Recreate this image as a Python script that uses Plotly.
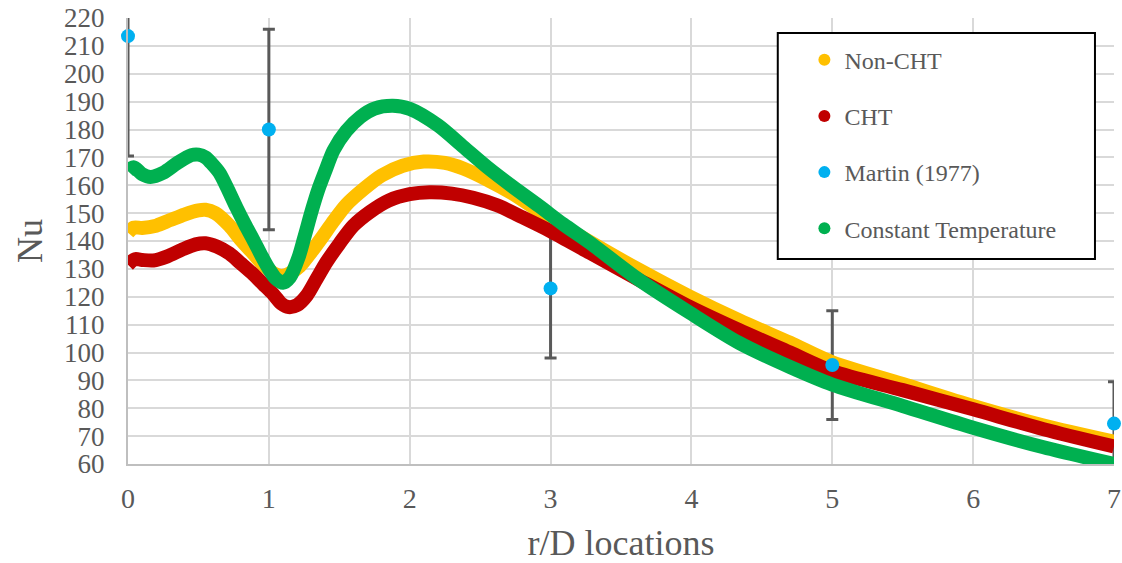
import plotly.graph_objects as go

# Nusselt number along r/D for the three simulations
r_noncht = [0, 0.04, 0.1, 0.2, 0.3, 0.4, 0.5, 0.55, 0.62, 0.72, 0.8, 0.89, 0.97, 1.05, 1.1,
            1.15, 1.22, 1.3, 1.38, 1.45, 1.55, 1.67, 1.8, 1.95, 2.1, 2.25, 2.38, 2.55, 2.73,
            2.97, 3.25, 3.63, 3.99, 4.34, 4.7, 5.0, 5.5, 6.0, 6.5, 7.0]
nu_noncht = [143, 144.8, 144.7, 145.5, 147.5, 149.5, 151, 151.2, 150, 145.5, 140.5, 135.5, 131,
             128, 127.5, 128.5, 131, 136, 141.5, 146.5, 153, 158.5, 163.5, 167, 168.5, 168,
             166, 162, 157, 149, 140.5, 129.6, 120, 111.5, 103.5, 96.5, 88.7, 80.8, 73.8, 68]

r_cht = [0, 0.05, 0.1, 0.18, 0.28, 0.38, 0.48, 0.55, 0.63, 0.72, 0.8, 0.89, 0.96, 1.03, 1.09,
         1.14, 1.2, 1.27, 1.34, 1.41, 1.5, 1.6, 1.72, 1.85, 2.0, 2.14, 2.3, 2.45, 2.62, 2.8,
         3.0, 3.28, 3.63, 3.99, 4.34, 4.7, 5.0, 5.5, 6.0, 6.5, 7.0]
nu_cht = [131.5, 133.5, 133.2, 133, 134.5, 136.8, 138.8, 139.2, 138, 135.5, 132, 128, 124.5,
          121, 117.5, 116.3, 117, 120.5, 126.5, 132.5, 139, 145.5, 150.5, 154.5, 156.8, 157.5,
          157, 155.5, 152.8, 148.5, 143.5, 135.7, 126, 116.3, 108, 100, 93.3, 86.5, 79.6,
          72.5, 66.3]

r_const = [0, 0.04, 0.1, 0.16, 0.25, 0.35, 0.45, 0.5, 0.55, 0.6, 0.65, 0.7, 0.77, 0.83, 0.89,
           0.95, 1.0, 1.05, 1.1, 1.15, 1.21, 1.25, 1.31, 1.35, 1.4, 1.46, 1.55, 1.65, 1.75,
           1.88, 2.0, 2.2, 2.38, 2.55, 2.73, 2.92, 3.09, 3.28, 3.63, 3.99, 4.34, 4.7, 5.0,
           5.5, 6.0, 6.5, 7.0]
nu_const = [165, 166.5, 164, 163, 164.5, 168, 170.8, 171, 170, 167.5, 164.4, 159.5, 152, 146,
            140.4, 134.5, 130, 126.5, 125, 127, 134, 141, 151.8, 158.3, 165, 172.6, 179.5,
            184.5, 187.5, 188.5, 187.4, 181.5, 173.8, 166.5, 159.5, 152.5, 146, 139.3, 126,
            114.2, 103.4, 94.8, 88.5, 80.8, 73, 66, 60]

# Martin (1977) correlation with its error band
r_martin = [0, 1, 3, 5, 7]
nu_martin = [213.5, 180, 123, 95.5, 74.5]
err_martin = [43, 36, 25, 19.5, 15]

FONT = "Liberation Serif, Times New Roman, serif"
GREY = "#595959"
C_NONCHT = "#FFC000"
C_CHT = "#C00000"
C_MARTIN = "#00B0F0"
C_CONST = "#00B050"

fig = go.Figure()

# error bars sit behind the curves and are clipped to the plot area
fig.add_trace(go.Scatter(
    x=r_martin, y=nu_martin, mode="markers",
    marker=dict(size=1, color="rgba(0,0,0,0)"),
    error_y=dict(type="data", array=err_martin, visible=True,
                 color=GREY, thickness=3, width=6),
    showlegend=False, hoverinfo="skip", cliponaxis=True,
))

line_kw = dict(mode="lines", line_shape="spline", showlegend=False, cliponaxis=False)
fig.add_trace(go.Scatter(x=r_noncht, y=nu_noncht, name="Non-CHT",
                         line=dict(color=C_NONCHT, width=14, smoothing=0.8), **line_kw))
fig.add_trace(go.Scatter(x=r_cht, y=nu_cht, name="CHT",
                         line=dict(color=C_CHT, width=14, smoothing=0.8), **line_kw))
fig.add_trace(go.Scatter(x=r_const, y=nu_const, name="Constant Temperature",
                         line=dict(color=C_CONST, width=14, smoothing=0.8), **line_kw))

fig.add_trace(go.Scatter(x=r_martin, y=nu_martin, mode="markers", name="Martin (1977)",
                         marker=dict(size=14, color=C_MARTIN), showlegend=False,
                         cliponaxis=False))

# legend entries (round markers, one group each so the gap can be set)
for name, color in [("Non-CHT", C_NONCHT), ("CHT", C_CHT),
                    ("Martin (1977)", C_MARTIN), ("Constant Temperature", C_CONST)]:
    fig.add_trace(go.Scatter(x=[None], y=[None], mode="markers", name=name,
                             legendgroup=name, marker=dict(size=12, color=color)))

fig.update_layout(
    width=1122, height=563,
    margin=dict(l=128, r=8, t=18, b=99, autoexpand=False),
    paper_bgcolor="white", plot_bgcolor="white",
    font=dict(family=FONT, color=GREY),
    legend=dict(x=0.686, y=0.956, xanchor="left", yanchor="top",
                bgcolor="rgba(0,0,0,0)", borderwidth=0,
                font=dict(size=24, color=GREY, family=FONT),
                tracegroupgap=22, itemwidth=30),
    shapes=[dict(type="rect", xref="paper", yref="paper",
                 x0=0.659, x1=0.9807, y0=0.4596, y1=0.9664,
                 line=dict(color="black", width=2), fillcolor="white", layer="above")],
)

fig.update_xaxes(
    range=[0, 7], dtick=1, tick0=0, automargin=False,
    showgrid=True, gridcolor="#d9d9d9", gridwidth=2,
    showline=True, linecolor="#bfbfbf", linewidth=2, zeroline=False,
    tickfont=dict(size=28, color=GREY, family=FONT), ticklabelstandoff=8,
    title=dict(text="r/D locations", font=dict(size=36, color=GREY, family=FONT), standoff=18),
)
fig.update_yaxes(
    range=[60, 220], dtick=10, tick0=60, automargin=False,
    showgrid=True, gridcolor="#d9d9d9", gridwidth=2,
    showline=True, linecolor="#bfbfbf", linewidth=2, zeroline=False,
    tickfont=dict(size=27, color=GREY, family=FONT), ticklabelstandoff=16,
    title=dict(text="Nu", font=dict(size=36, color=GREY, family=FONT), standoff=10),
)

fig.write_html("out.html")
